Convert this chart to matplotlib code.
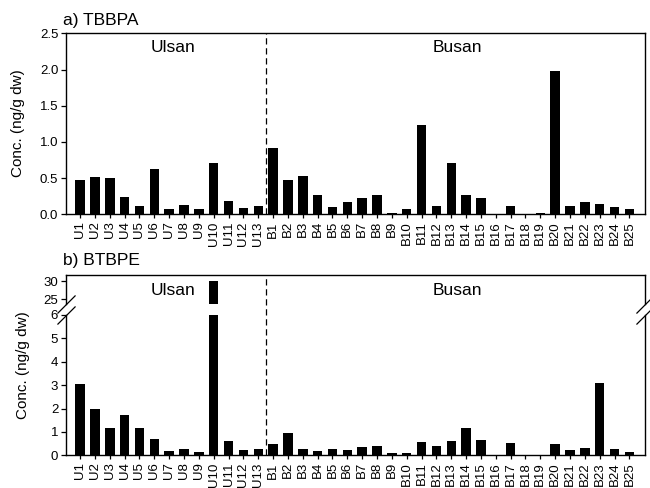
# -*- coding: utf-8 -*-
import matplotlib
matplotlib.use('Agg')
import matplotlib.pyplot as plt
from matplotlib.lines import Line2D

plt.rcParams['font.family'] = ['Liberation Sans', 'DejaVu Sans']

# sample sites
ulsan_sites = ['U%d' % i for i in range(1, 14)]
busan_sites = ['B%d' % i for i in range(1, 26)]
sites = ulsan_sites + busan_sites

# a) TBBPA (ng/g dw)
tbbpa_ulsan = [0.48, 0.52, 0.50, 0.24, 0.12, 0.62, 0.07, 0.13, 0.08, 0.71, 0.19, 0.09, 0.12]
tbbpa_busan = [0.92, 0.47, 0.53, 0.26, 0.10, 0.17, 0.23, 0.26, 0.02, 0.08, 1.23, 0.11, 0.71,
               0.27, 0.22, 0.0, 0.12, 0.0, 0.015, 1.98, 0.11, 0.17, 0.14, 0.10, 0.07]

# b) BTBPE (ng/g dw)
btbpe_ulsan = [3.03, 1.96, 1.18, 1.72, 1.18, 0.70, 0.19, 0.28, 0.16, 30.0, 0.60, 0.21, 0.27]
btbpe_busan = [0.50, 0.97, 0.27, 0.20, 0.27, 0.24, 0.34, 0.41, 0.10, 0.08, 0.56, 0.38, 0.60,
               1.18, 0.64, 0.0, 0.51, 0.03, 0.0, 0.48, 0.23, 0.33, 3.09, 0.28, 0.14]

W, H = 650.0, 488.0
L, R = 66 / W, 645 / W
XLIM = (-0.95, 38.05)
SPLIT = 12.5  # between U13 and B1
FS_TICK = 9.5
FS_LAB = 11
FS_TXT = 12.5


def fy(px):
    return 1 - px / H


def style(ax):
    for s in ax.spines.values():
        s.set_linewidth(1.0)
    ax.tick_params(axis='y', direction='out', length=3.6, width=0.9, labelsize=FS_TICK, pad=2)
    ax.tick_params(axis='x', direction='out', length=3, width=0.9, labelsize=FS_TICK, pad=2)
    ax.set_xlim(*XLIM)


def main():
    fig = plt.figure(figsize=(6.5, 4.88), dpi=100)
    x = list(range(len(sites)))
    bw = 0.64

    # ---- a) TBBPA
    ax1 = fig.add_axes([L, fy(214.3), R - L, fy(33.3) - fy(214.3)])
    ax1.bar(x, tbbpa_ulsan + tbbpa_busan, width=bw, color='black')
    ax1.set_ylim(0, 2.5)
    ax1.set_yticks([0, 0.5, 1.0, 1.5, 2.0, 2.5])
    ax1.set_yticklabels(['0.0', '0.5', '1.0', '1.5', '2.0', '2.5'])
    ax1.set_xticks(x)
    ax1.set_xticklabels(sites, rotation=90)
    ax1.axvline(SPLIT, color='black', lw=0.9, ls=(0, (5, 3)))
    ax1.text(6.25, 0.924, 'Ulsan', transform=ax1.get_xaxis_transform(),
             ha='center', va='center', fontsize=FS_TXT)
    ax1.text(25.4, 0.924, 'Busan', transform=ax1.get_xaxis_transform(),
             ha='center', va='center', fontsize=FS_TXT)
    style(ax1)

    # ---- b) BTBPE, broken axis
    lo = fig.add_axes([L, fy(455.3), R - L, fy(314.9) - fy(455.3)])
    hi = fig.add_axes([L, fy(303.7), R - L, fy(274.7) - fy(303.7)])
    vals = btbpe_ulsan + btbpe_busan
    lo.bar(x, vals, width=bw, color='black')
    hi.bar(x, vals, width=bw, color='black')
    lo.set_ylim(0, 6)
    hi.set_ylim(23.8, 31.8)
    lo.set_yticks([0, 1, 2, 3, 4, 5, 6])
    hi.set_yticks([25, 30])
    lo.set_xticks(x)
    lo.set_xticklabels(sites, rotation=90)
    lo.spines['top'].set_visible(False)
    hi.spines['bottom'].set_visible(False)
    style(lo)
    style(hi)
    hi.set_xticks([])
    hi.text(6.25, 0.47, 'Ulsan', transform=hi.get_xaxis_transform(),
            ha='center', va='center', fontsize=FS_TXT)
    hi.text(25.4, 0.47, 'Busan', transform=hi.get_xaxis_transform(),
            ha='center', va='center', fontsize=FS_TXT)

    # dashed divider running through the break
    xs = L + (SPLIT - XLIM[0]) / (XLIM[1] - XLIM[0]) * (R - L)
    fig.add_artist(Line2D([xs, xs], [fy(455.3), fy(274.7)], color='black',
                          lw=0.9, ls=(0, (5, 3))))

    # break marks
    kw = dict(marker=[(-1, -1), (1, 1)], markersize=13, linestyle='none',
              color='black', mec='black', mew=0.9, clip_on=False)
    hi.plot([0, 1], [0, 0], transform=hi.transAxes, **kw)
    lo.plot([0, 1], [1, 1], transform=lo.transAxes, **kw)

    # titles and y labels
    fig.text(63 / W, fy(28.5), 'a) TBBPA', fontsize=FS_TXT, ha='left', va='bottom')
    fig.text(63 / W, fy(268.5), 'b) BTBPE', fontsize=FS_TXT, ha='left', va='bottom')
    fig.text(18 / W, fy(123.6), 'Conc. (ng/g dw)', rotation=90,
             ha='center', va='center', fontsize=FS_LAB)
    fig.text(23 / W, fy(365), 'Conc. (ng/g dw)', rotation=90,
             ha='center', va='center', fontsize=FS_LAB)

    fig.savefig('out.png', dpi=100)


if __name__ == '__main__':
    main()
